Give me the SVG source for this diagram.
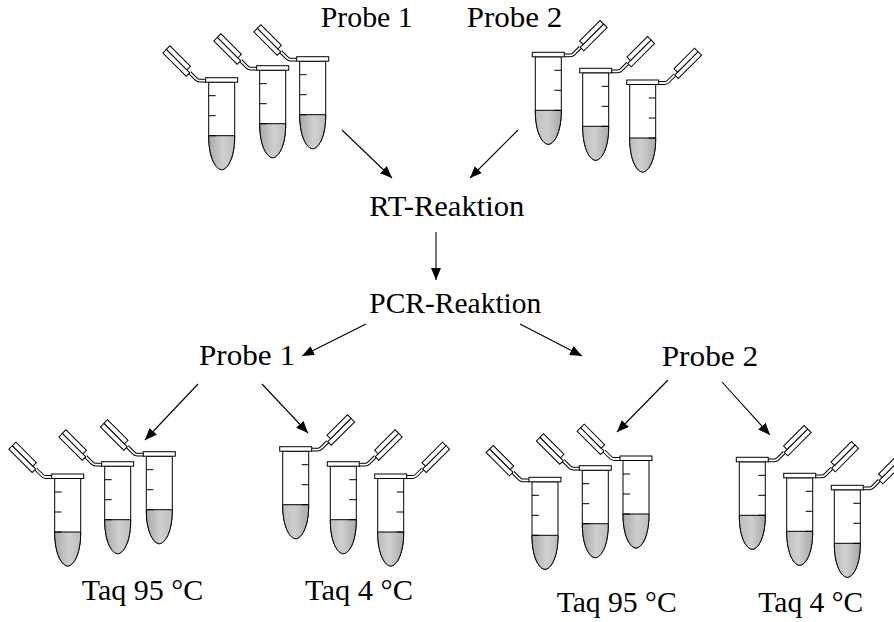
<svg xmlns="http://www.w3.org/2000/svg" xmlns:xlink="http://www.w3.org/1999/xlink" width="894" height="622" viewBox="0 0 894 622">
  <style>
    .lbl { font-family: "Liberation Serif", "Times New Roman", serif; font-size: 30px; fill: #000; }
    .edge { stroke: #000; stroke-width: 1.1; fill: none; marker-end: url(#head); }
    .outline { fill: #fff; stroke: #000; stroke-width: 1; }
    .tick { stroke: #000; stroke-width: 1; }
  </style>
  <defs>
    <marker id="head" markerUnits="userSpaceOnUse" markerWidth="13" markerHeight="10" refX="12" refY="5" orient="auto">
      <path d="M0,0 L12,5 L0,10 Z" fill="#000"/>
    </marker>
    <linearGradient id="liquid" x1="0" y1="0" x2="1" y2="0">
      <stop offset="0" stop-color="#a9a9a9"/>
      <stop offset="0.55" stop-color="#cfcfcf"/>
      <stop offset="1" stop-color="#bdbdbd"/>
    </linearGradient>
    <!-- microtube, rim top-left at origin, hinged lid on the left -->
    <g id="tube">
      <!-- hinge strap: black outer stroke with white core gives a double line -->
      <path d="M0.5,3 L-6,3 Q-8,3 -9.5,1.5 L-16,-5" fill="none" stroke="#000" stroke-width="3.8"/>
      <path d="M1,3 L-6,3 Q-8,3 -9.5,1.5 L-16.5,-5.5" fill="none" stroke="#fff" stroke-width="1.8"/>
      <!-- lid -->
      <g transform="translate(-16,-5) rotate(225)">
        <rect x="0" y="-5" width="33" height="5" class="outline"/>
        <rect x="4" y="0" width="29" height="5" class="outline"/>
      </g>
      <!-- body -->
      <path d="M3,4.5 L3,58 C3,82 11,92 16,92 C21,92 29,82 29,58 L29,4.5 Z" class="outline"/>
      <path d="M3,58 L29,58 C29,82 21,92 16,92 C11,92 3,82 3,58 Z" fill="url(#liquid)" stroke="#000" stroke-width="1"/>
      <line x1="3" y1="18" x2="10" y2="18" class="tick"/>
      <line x1="3" y1="38" x2="10" y2="38" class="tick"/>
      <line x1="3" y1="58" x2="10" y2="58" class="tick"/>
      <rect x="0" y="0" width="32" height="4.5" class="outline"/>
    </g>
  </defs>

  <!-- connectors -->
  <g id="connectors">
    <line class="edge" x1="342" y1="130" x2="392" y2="178"/>
    <line class="edge" x1="518" y1="130" x2="470" y2="178"/>
    <line class="edge" x1="436" y1="232" x2="436" y2="280"/>
    <line class="edge" x1="366" y1="324" x2="302" y2="356"/>
    <line class="edge" x1="520" y1="324" x2="582" y2="356"/>
    <line class="edge" x1="198" y1="384" x2="145" y2="440"/>
    <line class="edge" x1="262" y1="384" x2="308" y2="433"/>
    <line class="edge" x1="668" y1="380" x2="617" y2="432"/>
    <line class="edge" x1="722" y1="382" x2="770" y2="435"/>
  </g>

  <!-- sample tubes, sample 1 -->
  <g id="tubes-probe1">
    <use xlink:href="#tube" transform="translate(205.7,77.7)"/>
    <use xlink:href="#tube" transform="translate(256.7,65.7)"/>
    <use xlink:href="#tube" transform="translate(296.7,56.7)"/>
  </g>
  <!-- sample tubes, sample 2 (mirrored) -->
  <g id="tubes-probe2">
    <use xlink:href="#tube" transform="translate(564.3,52.3) scale(-1,1)"/>
    <use xlink:href="#tube" transform="translate(611.7,68.3) scale(-1,1)"/>
    <use xlink:href="#tube" transform="translate(658.7,80) scale(-1,1)"/>
  </g>

  <g id="label-probe1-top"><text class="lbl" x="320.7" y="27" textLength="92" lengthAdjust="spacingAndGlyphs">Probe 1</text></g>
  <g id="label-probe2-top"><text class="lbl" x="466.7" y="27" textLength="95.6" lengthAdjust="spacingAndGlyphs">Probe 2</text></g>
  <g id="node-rt"><text class="lbl" x="369.3" y="216" textLength="155" lengthAdjust="spacingAndGlyphs">RT-Reaktion</text></g>
  <g id="node-pcr"><text class="lbl" x="369.3" y="312.7" textLength="172" lengthAdjust="spacingAndGlyphs">PCR-Reaktion</text></g>
  <g id="node-probe1"><text class="lbl" x="199" y="365" textLength="96" lengthAdjust="spacingAndGlyphs">Probe 1</text></g>
  <g id="node-probe2"><text class="lbl" x="661.7" y="366" textLength="96.6" lengthAdjust="spacingAndGlyphs">Probe 2</text></g>

  <!-- sample 1, Taq 95 °C -->
  <g id="node-p1-taq95">
    <use xlink:href="#tube" transform="translate(51.7,474)"/>
    <use xlink:href="#tube" transform="translate(101.7,461.7)"/>
    <use xlink:href="#tube" transform="translate(143.3,451.7)"/>
    <text class="lbl" x="81.7" y="600" textLength="121.6" lengthAdjust="spacingAndGlyphs">Taq 95 °C</text>
  </g>
  <!-- sample 1, Taq 4 °C -->
  <g id="node-p1-taq4">
    <use xlink:href="#tube" transform="translate(311.7,446.7) scale(-1,1)"/>
    <use xlink:href="#tube" transform="translate(359.3,461.7) scale(-1,1)"/>
    <use xlink:href="#tube" transform="translate(406.7,474) scale(-1,1)"/>
    <text class="lbl" x="305" y="600" textLength="108" lengthAdjust="spacingAndGlyphs">Taq 4 °C</text>
  </g>
  <!-- sample 2, Taq 95 °C -->
  <g id="node-p2-taq95">
    <use xlink:href="#tube" transform="translate(529,477.3)"/>
    <use xlink:href="#tube" transform="translate(579.3,465.7)"/>
    <use xlink:href="#tube" transform="translate(620,456)"/>
    <text class="lbl" x="556.7" y="611.7" textLength="120" lengthAdjust="spacingAndGlyphs">Taq 95 °C</text>
  </g>
  <!-- sample 2, Taq 4 °C -->
  <g id="node-p2-taq4">
    <use xlink:href="#tube" transform="translate(768.3,457.3) scale(-1,1)"/>
    <use xlink:href="#tube" transform="translate(815.7,473.3) scale(-1,1)"/>
    <use xlink:href="#tube" transform="translate(863.3,485.3) scale(-1,1)"/>
    <text class="lbl" x="758.3" y="611.7" textLength="105" lengthAdjust="spacingAndGlyphs">Taq 4 °C</text>
  </g>
</svg>
